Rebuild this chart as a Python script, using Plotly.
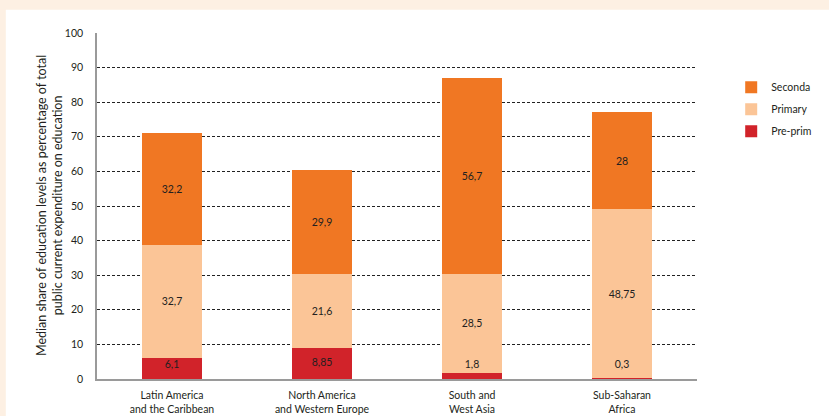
import plotly.graph_objs as go

regions = ["Latin America<br>and the Caribbean", "North America<br>and Western Europe",
           "South and<br>West Asia", "Sub-Saharan<br>Africa"]
pre_primary = [6.1, 8.85, 1.8, 0.3]
primary = [32.7, 21.6, 28.5, 48.75]
secondary = [32.2, 29.9, 56.7, 28]
y_ticks = list(range(0, 101, 10))

COL_SEC = "#f07723"
COL_PRI = "#fbc597"
COL_PRE = "#d1232a"
TXT = "#231f20"
FONT = "Lato, Roboto, sans-serif"


def fmt(v):
    return f"{v:g}".replace(".", ",")


fig = go.Figure()

fig.add_trace(go.Bar(
    x=regions, y=pre_primary, name="Pre-prim", legendgroup="pre", legendrank=3,
    marker=dict(color=COL_PRE, line=dict(width=0)),
))
fig.add_trace(go.Bar(
    x=regions, y=primary, name="Primary", legendgroup="pri", legendrank=2,
    marker=dict(color=COL_PRI, line=dict(width=0)),
    text=[fmt(v) for v in primary], textposition="inside", insidetextanchor="middle",
    textfont=dict(color=TXT, size=10.5), constraintext="none",
))
fig.add_trace(go.Bar(
    x=regions, y=secondary, name="Seconda", legendgroup="sec", legendrank=1,
    marker=dict(color=COL_SEC, line=dict(width=0)),
    text=[fmt(v) for v in secondary], textposition="inside", insidetextanchor="middle",
    textfont=dict(color=TXT, size=10.5), constraintext="none",
))
# pre-primary labels sit near the base, even for very thin bars
fig.add_trace(go.Scatter(
    x=regions, y=[max(v / 2, 4) for v in pre_primary], mode="text",
    text=[fmt(v) for v in pre_primary], textfont=dict(color=TXT, size=10.5, family=FONT),
    showlegend=False, hoverinfo="skip",
))

# white panel over the cream page background
fig.add_shape(type="rect", xref="paper", yref="paper", layer="below",
              x0=-0.152, x1=1.3, y0=-0.2, y1=1.067,
              fillcolor="white", line=dict(width=0))

fig.add_annotation(
    text="Median share of education levels as percentage of total<br>public current expenditure on education",
    xref="paper", yref="paper", x=-0.08, y=0.5, textangle=-90, showarrow=False,
    font=dict(size=12.5, color=TXT, family=FONT), xanchor="center", yanchor="middle",
)

fig.update_layout(
    barmode="stack",
    bargap=0.6,
    width=829, height=416,
    margin=dict(l=97, r=132, t=33, b=37, autoexpand=False),
    paper_bgcolor="#fdf0e3",
    plot_bgcolor="rgba(0,0,0,0)",
    font=dict(family=FONT, color=TXT, size=10),
    showlegend=True,
    legend=dict(x=1.057, y=0.885, xanchor="left", yanchor="top",
                bgcolor="rgba(0,0,0,0)", font=dict(size=10.5), traceorder="grouped",
                tracegroupgap=3, itemwidth=30),
    xaxis=dict(showgrid=False, showline=True, linecolor="#9a9a9a", linewidth=1.5,
               ticks="", tickfont=dict(size=10.5), range=[-0.5, 3.5], ticklabelstandoff=6),
    yaxis=dict(range=[0, 100], tickvals=y_ticks, showgrid=True, gridcolor="#222222",
               gridwidth=0.7, griddash="3px,2px", showline=True, linecolor="#9a9a9a",
               linewidth=1.5, ticks="", ticklabelstandoff=10, tickfont=dict(size=10.5),
               zeroline=False),
)

# drop the browser's default page margin so the figure sits at the window corner
fig.write_html("out.html", config={"displayModeBar": False},
               post_script="document.body.style.margin='0';")
